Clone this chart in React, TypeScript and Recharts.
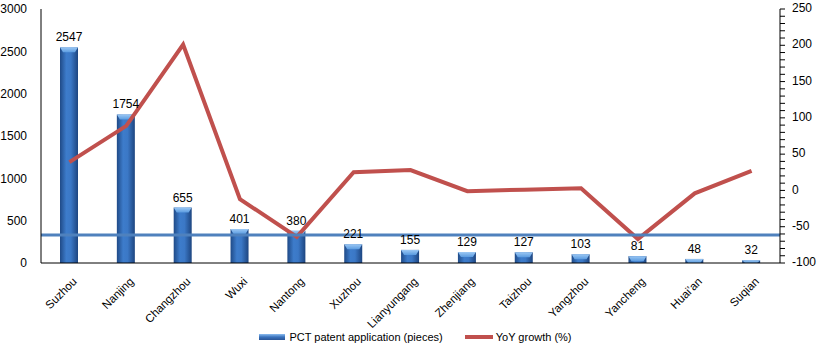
import React from 'react';
import {
    ComposedChart, Bar, Line, XAxis, YAxis, ReferenceLine, LabelList, Legend,
} from 'recharts';

const cities = [
    'Suzhou', 'Nanjing', 'Changzhou', 'Wuxi', 'Nantong', 'Xuzhou', 'Lianyungang',
    'Zhenjiang', 'Taizhou', 'Yangzhou', 'Yancheng', 'Huai’an', 'Suqian',
];
const pctApplications = [2547, 1754, 655, 401, 380, 221, 155, 129, 127, 103, 81, 48, 32];
const yoyGrowth = [39, 89, 201, -12, -64, 25, 28, -1, 1, 3, -67, -4, 27];
const leftTicks = [0, 500, 1000, 1500, 2000, 2500, 3000];
const rightTicks: number[] = [];
for (let v = -100; v <= 250; v += 10) rightTicks.push(v);
const baselineValue = 330;

const data = cities.map((city, i) => ({
    city,
    pct: pctApplications[i],
    yoy: yoyGrowth[i],
}));

const FONT = '"Liberation Sans", Arial, sans-serif';

function BarShape(props: any) {
    const { x, y, width, height } = props;
    if (!height || height <= 0) return null;
    const cap = Math.min(5, height);
    return (
        <g>
            <rect x={x} y={y} width={width} height={height} fill="url(#barGrad)" />
            <polygon
                points={`${x},${y} ${x + width},${y} ${x + width - 3},${y + cap} ${x + 3},${y + cap}`}
                fill="url(#capGrad)"
            />
        </g>
    );
}

function CityTick({ x, y, payload }: any) {
    const ax = x + 6;
    const ay = y + 9;
    return (
        <text
            x={ax}
            y={ay}
            transform={`rotate(-45 ${ax} ${ay})`}
            textAnchor="end"
            dominantBaseline="middle"
            fontSize={11.5}
            fontFamily={FONT}
            fill="#000"
        >
            {payload.value}
        </text>
    );
}

function RightTick({ x, y, payload }: any) {
    const major = payload.value % 50 === 0;
    return (
        <g>
            <line x1={x - 8} x2={x - 3} y1={y} y2={y} stroke="#000" strokeWidth={1} />
            {major && (
                <text x={x + 4} y={y} dominantBaseline="middle" fontSize={12} fontFamily={FONT} fill="#000">
                    {payload.value}
                </text>
            )}
        </g>
    );
}

function LegendContent() {
    return (
        <div style={{ display: 'flex', justifyContent: 'center', alignItems: 'center', fontFamily: FONT, fontSize: 11, color: '#000', paddingLeft: 10 }}>
            <span style={{ display: 'inline-block', width: 26, height: 6, background: 'linear-gradient(#8cbdf0, #3a73bd 50%, #2a5596)', marginRight: 4 }} />
            <span>PCT patent application (pieces)</span>
            <span style={{ display: 'inline-block', width: 28, height: 4, background: '#c0504d', marginLeft: 22, marginRight: 3 }} />
            <span>YoY growth (%)</span>
        </div>
    );
}

export default function App() {
    return (
        <div style={{ position: 'fixed', left: 0, top: 0, width: 821, height: 361, background: '#fff' }}>
            <ComposedChart
                width={821}
                height={361}
                data={data}
                margin={{ top: 9, right: 0, bottom: 4, left: 0 }}
                barCategoryGap={0}
            >
                <defs>
                    <linearGradient id="barGrad" x1="0" y1="0" x2="1" y2="0">
                        <stop offset="0%" stopColor="#1f4a87" />
                        <stop offset="35%" stopColor="#3d7ccb" />
                        <stop offset="60%" stopColor="#3b78c6" />
                        <stop offset="100%" stopColor="#1d4580" />
                    </linearGradient>
                    <linearGradient id="capGrad" x1="0" y1="0" x2="0" y2="1">
                        <stop offset="0%" stopColor="#9cc8f4" />
                        <stop offset="100%" stopColor="#5a9be0" />
                    </linearGradient>
                </defs>
                <XAxis
                    dataKey="city"
                    interval={0}
                    height={68}
                    tickLine={false}
                    axisLine={{ stroke: '#000' }}
                    tick={<CityTick />}
                />
                <YAxis
                    yAxisId="left"
                    width={41}
                    domain={[0, 3000]}
                    ticks={leftTicks}
                    tickLine={false}
                    axisLine={{ stroke: '#000' }}
                    tick={{ fontSize: 12, fontFamily: FONT, fill: '#000' }}
                    tickMargin={8}
                    interval={0}
                />
                <YAxis
                    yAxisId="right"
                    orientation="right"
                    width={41}
                    domain={[-100, 250]}
                    ticks={rightTicks}
                    tickLine={false}
                    axisLine={{ stroke: '#000' }}
                    tick={<RightTick />}
                    interval={0}
                />
                <Bar
                    yAxisId="left"
                    dataKey="pct"
                    name="PCT patent application (pieces)"
                    barSize={18}
                    shape={<BarShape />}
                    isAnimationActive={false}
                >
                    <LabelList dataKey="pct" position="top" offset={6} fill="#000" fontSize={12} fontFamily={FONT} />
                </Bar>
                <Line
                    yAxisId="right"
                    dataKey="yoy"
                    name="YoY growth (%)"
                    type="linear"
                    stroke="#c0504d"
                    strokeWidth={4}
                    dot={false}
                    isAnimationActive={false}
                />
                <ReferenceLine
                    yAxisId="left"
                    y={baselineValue}
                    stroke="#4f81bd"
                    strokeWidth={3}
                    ifOverflow="extendDomain"
                />
                <Legend verticalAlign="bottom" height={26} content={<LegendContent />} />
            </ComposedChart>
        </div>
    );
}
